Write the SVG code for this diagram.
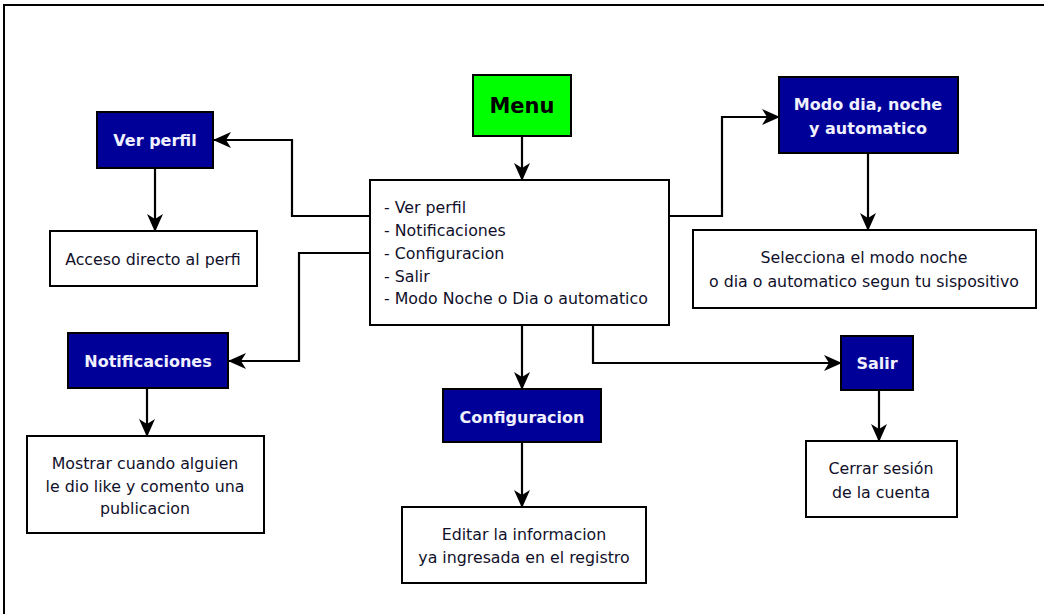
<svg xmlns="http://www.w3.org/2000/svg" width="1044" height="614" viewBox="0 0 1044 614">
<defs>
<marker id="arr" viewBox="0 0 18 16" refX="17" refY="8" markerWidth="18" markerHeight="16" markerUnits="userSpaceOnUse" orient="auto">
<path d="M0,0 L18,8 L0,16 L5,8 Z" fill="#000"/>
</marker>
<style>
.frame{fill:none;stroke:#000;stroke-width:2}
.box{fill:#fff;stroke:#000;stroke-width:2}
.hdr{fill:#000099;stroke:#000;stroke-width:2}
.green{fill:#00ff00;stroke:#000;stroke-width:2}
.t{font-family:"DejaVu Sans",Verdana,sans-serif;font-size:15.8px;fill:#10102a}
.c{text-anchor:middle}
.h{font-family:"DejaVu Sans",Verdana,sans-serif;font-size:16px;font-weight:bold;fill:#f0f0ff;text-anchor:middle}
.m{font-family:"DejaVu Sans",Verdana,sans-serif;font-size:21px;font-weight:bold;fill:#000;text-anchor:middle}
.conn path{fill:none;stroke:#000;stroke-width:2.2;marker-end:url(#arr)}
</style>
</defs>
<rect width="1044" height="614" fill="#fff"/>
<rect class="frame" x="4" y="5" width="1100" height="700"/>
<g class="conn" id="connectors">
<path d="M522,136 V180"/>
<path d="M370,216 H292 V140 H214"/>
<path d="M370,253 H299 V361 H229"/>
<path d="M522,325 V389"/>
<path d="M593,325 V363 H841"/>
<path d="M669,216 H722 V117 H779"/>
<path d="M155,168 V231"/>
<path d="M147,388 V436"/>
<path d="M522,442 V507"/>
<path d="M868,153 V230"/>
<path d="M879,390 V441"/>
</g>
<g id="menu"><rect class="green" x="473" y="75" width="98" height="61"/><text class="m" x="522" y="113">Menu</text></g>
<g id="list"><rect class="box" x="370" y="180" width="299" height="145"/>
<text class="t" x="384" y="213">- Ver perfil</text>
<text class="t" x="384" y="236">- Notificaciones</text>
<text class="t" x="384" y="259">- Configuracion</text>
<text class="t" x="384" y="282">- Salir</text>
<text class="t" x="384" y="304">- Modo Noche o Dia o automatico</text>
</g>
<g id="verperfil"><rect class="hdr" x="97" y="112" width="116" height="56"/><text class="h" x="155" y="146">Ver perfil</text></g>
<g id="acceso"><rect class="box" x="50" y="231" width="207" height="55"/><text class="t c" x="153" y="265">Acceso directo al perfi</text></g>
<g id="modo"><rect class="hdr" x="779" y="77" width="179" height="76"/><text class="h" x="868" y="110">Modo dia, noche</text><text class="h" x="868" y="134">y automatico</text></g>
<g id="selecciona"><rect class="box" x="693" y="230" width="343" height="78"/><text class="t c" x="864" y="263">Selecciona el modo noche</text><text class="t c" x="864" y="287">o dia o automatico segun tu sispositivo</text></g>
<g id="notificaciones"><rect class="hdr" x="68" y="333" width="160" height="55"/><text class="h" x="148" y="367">Notificaciones</text></g>
<g id="mostrar"><rect class="box" x="27" y="436" width="237" height="97"/><text class="t c" x="145" y="469">Mostrar cuando alguien</text><text class="t c" x="145" y="492">le dio like y comento una</text><text class="t c" x="145" y="514">publicacion</text></g>
<g id="configuracion"><rect class="hdr" x="443" y="389" width="158" height="53"/><text class="h" x="522" y="423">Configuracion</text></g>
<g id="editar"><rect class="box" x="402" y="507" width="244" height="76"/><text class="t c" x="524" y="540">Editar la informacion</text><text class="t c" x="524" y="563">ya ingresada en el registro</text></g>
<g id="salir"><rect class="hdr" x="841" y="336" width="72" height="54"/><text class="h" x="877" y="369">Salir</text></g>
<g id="cerrar"><rect class="box" x="806" y="441" width="151" height="76"/><text class="t c" x="881" y="474">Cerrar sesión</text><text class="t c" x="881" y="498">de la cuenta</text></g>
</svg>
